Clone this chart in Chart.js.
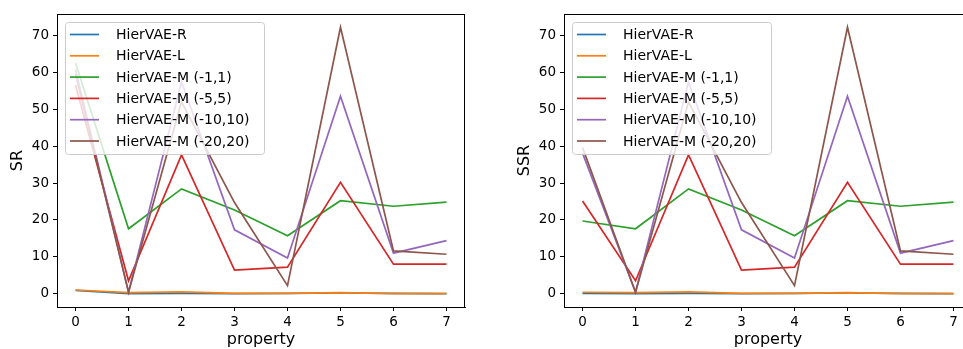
<!DOCTYPE html>
<html>
<head>
<meta charset="utf-8">
<script src="https://cdn.jsdelivr.net/npm/chart.js@4/dist/chart.umd.min.js"></script>
<style>
  html, body { margin: 0; padding: 0; background: #fff; overflow: hidden; width: 963px; height: 349px; }
  .panel { position: absolute; top: 0; }
</style>
</head>
<body>
<div class="panel" style="left:0px"><canvas id="srChart" width="480" height="349"></canvas></div>
<div class="panel" style="left:480px"><canvas id="ssrChart" width="500" height="349"></canvas></div>
<script>
// data
var properties = [0, 1, 2, 3, 4, 5, 6, 7];
var xTicks = [0, 1, 2, 3, 4, 5, 6, 7];
var yTicks = [0, 10, 20, 30, 40, 50, 60, 70];

var labels = ["HierVAE-R", "HierVAE-L", "HierVAE-M (-1,1)", "HierVAE-M (-5,5)", "HierVAE-M (-10,10)", "HierVAE-M (-20,20)"];
var colors = ["#1f77b4", "#ff7f0e", "#2ca02c", "#d62728", "#9467bd", "#8c564b"];

// SR
var srR    = [0.9, 0.0, 0.1, 0.0, 0.1, 0.2, 0.1, 0.0];
var srL    = [1.0, 0.3, 0.5, 0.1, 0.1, 0.3, 0.0, 0.0];
var srM1   = [62.5, 17.6, 28.4, 22.7, 15.7, 25.2, 23.7, 24.8];
var srM5   = [56.5, 3.5, 37.6, 6.4, 7.2, 30.2, 8.0, 8.0];
var srM10  = [60.8, 0.4, 57.4, 17.3, 9.7, 53.5, 11.0, 14.4];
var srM20  = [59.5, 0.4, 52.0, 24.7, 2.2, 72.2, 11.6, 10.7];

// SSR
var ssrR   = [0.1, 0.0, 0.1, 0.0, 0.1, 0.2, 0.1, 0.0];
var ssrL   = [0.4, 0.3, 0.5, 0.1, 0.1, 0.3, 0.0, 0.0];
var ssrM1  = [19.7, 17.6, 28.4, 22.7, 15.7, 25.2, 23.7, 24.8];
var ssrM5  = [25.1, 3.5, 37.6, 6.4, 7.2, 30.2, 8.0, 8.0];
var ssrM10 = [38.1, 0.4, 57.4, 17.3, 9.7, 53.5, 11.0, 14.4];
var ssrM20 = [39.6, 0.4, 52.0, 24.7, 2.2, 72.2, 11.6, 10.7];

var FONT = "'DejaVu Sans', sans-serif";

// top/right spines + matplotlib style legend inside the axes
var framePlugin = {
  id: 'frame',
  afterDraw: function(chart) {
    var ctx = chart.ctx, ca = chart.chartArea;
    ctx.save();
    ctx.strokeStyle = '#000';
    ctx.lineWidth = 1;
    ctx.beginPath();
    ctx.moveTo(ca.left, ca.top + 0.5);
    ctx.lineTo(ca.right, ca.top + 0.5);
    ctx.moveTo(ca.right - 0.5, ca.top);
    ctx.lineTo(ca.right - 0.5, ca.bottom);
    ctx.stroke();

    // legend box
    var lx = ca.left + 8, ly = ca.top + 8, lw = 199, lh = 132, r = 3;
    ctx.beginPath();
    ctx.roundRect(lx + 0.5, ly + 0.5, lw, lh, r);
    ctx.fillStyle = 'rgba(255,255,255,0.8)';
    ctx.fill();
    ctx.strokeStyle = '#cccccc';
    ctx.stroke();

    ctx.font = '14px ' + FONT;
    ctx.textBaseline = 'middle';
    ctx.textAlign = 'left';
    chart.data.datasets.forEach(function(ds, i) {
      var cy = ly + 12.5 + i * 21.3;
      ctx.strokeStyle = ds.borderColor;
      ctx.lineWidth = 1.7;
      ctx.beginPath();
      ctx.moveTo(lx + 5, cy);
      ctx.lineTo(lx + 34, cy);
      ctx.stroke();
      ctx.fillStyle = '#000';
      ctx.fillText(ds.label, lx + 51, cy + 1);
    });
    ctx.restore();
  }
};

function makeChart(id, yTitle, series, padLeft, padRight) {
  var datasets = series.map(function(vals, i) {
    return {
      label: labels[i],
      data: properties.map(function(p, j) { return { x: p, y: vals[j] }; }),
      borderColor: colors[i],
      backgroundColor: colors[i],
      borderWidth: 1.7,
      pointRadius: 0,
      tension: 0,
      fill: false,
      order: series.length - i
    };
  });

  return new Chart(document.getElementById(id).getContext('2d'), {
    type: 'line',
    data: { datasets: datasets },
    plugins: [framePlugin],
    options: {
      responsive: false,
      animation: false,
      devicePixelRatio: 1,
      layout: { padding: { left: padLeft, right: padRight, top: 14, bottom: 0 } },
      plugins: { legend: { display: false }, tooltip: { enabled: false } },
      scales: {
        x: {
          type: 'linear',
          min: -0.35,
          max: 7.35,
          afterBuildTicks: function(s) { s.ticks = xTicks.map(function(v) { return { value: v }; }); },
          afterFit: function(s) { s.height = 42; },
          grid: { drawOnChartArea: false, drawTicks: true, tickLength: 4, color: '#000' },
          border: { display: true, color: '#000', width: 1 },
          ticks: { color: '#000', font: { family: FONT, size: 13.5 }, padding: 3, maxRotation: 0, autoSkip: false },
          title: { display: true, text: 'property', color: '#000', font: { family: FONT, size: 16 }, padding: { top: 0, bottom: 0 } }
        },
        y: {
          type: 'linear',
          min: -3.6,
          max: 75.8,
          afterBuildTicks: function(s) { s.ticks = yTicks.map(function(v) { return { value: v }; }); },
          afterFit: function(s) { s.width = 57; },
          grid: { drawOnChartArea: false, drawTicks: true, tickLength: 4, color: '#000' },
          border: { display: true, color: '#000', width: 1 },
          ticks: { color: '#000', font: { family: FONT, size: 13.5 }, padding: 4 },
          title: { display: true, text: yTitle, color: '#000', font: { family: FONT, size: 16 }, padding: { top: 8, bottom: 0 } }
        }
      }
    }
  });
}

makeChart('srChart', 'SR', [srR, srL, srM1, srM5, srM10, srM20], 0, 15);
makeChart('ssrChart', 'SSR', [ssrR, ssrL, ssrM1, ssrM5, ssrM10, ssrM20], 27, 8);
</script>
</body>
</html>
